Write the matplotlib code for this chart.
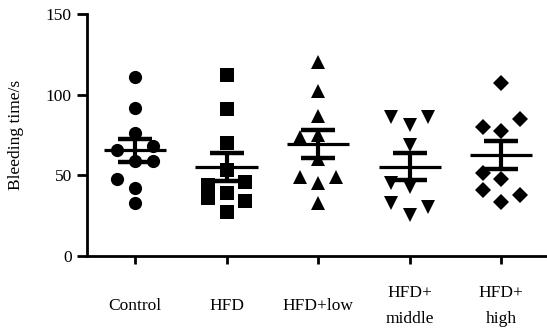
import numpy as np
import matplotlib
matplotlib.use("Agg")
import matplotlib.pyplot as plt

categories = ["Control", "HFD", "HFD+low", "HFD+\nmiddle", "HFD+\nhigh"]
control = [111, 92, 76, 66, 68, 59, 59, 48, 42, 33]
hfd = [112, 91, 70, 53, 39, 27.5, 46, 34, 44, 36]
hfd_low = [120, 102, 87, 74, 75, 60, 49, 49, 45, 33]
hfd_middle = [86, 81, 86, 69, 45.5, 43, 32.6, 30.6, 25.4]
hfd_high = [107.5, 85, 80, 77.7, 51.6, 48, 41, 38, 33.7]
# column of each point within its group: -1 left, 0 centre, 1 right
control_col = [0, 0, 0, -1, 1, 0, 1, -1, 0, 0]
hfd_col = [0, 0, 0, 0, 0, 0, 1, 1, -1, -1]
low_col = [0, 0, 0, -1, 0, 0, -1, 1, 0, 0]
middle_col = [-1, 0, 1, 0, -1, 0, -1, 1, 0]
high_col = [0, 1, -1, 0, -1, 0, -1, 1, 0]
yticks = [0, 50, 100, 150]

groups = [control, hfd, hfd_low, hfd_middle, hfd_high]
cols = [control_col, hfd_col, low_col, middle_col, high_col]
markers = ["o", "s", "^", "v", "D"]
msizes = [9.5, 10.5, 9.5, 9.5, 8.5]

plt.rcParams['font.family'] = ['Liberation Serif', 'DejaVu Serif']

fig = plt.figure(figsize=(5.47, 3.32), dpi=100)
ax = fig.add_axes([87/547, 76/332, 460/547, 242/332])

spread = 0.2
for i, (vals, cc, m, ms) in enumerate(zip(groups, cols, markers, msizes)):
    v = np.array(vals, dtype=float)
    x = i + spread * np.array(cc)
    ax.plot(x, v, linestyle="none", marker=m, markersize=ms, color="black",
            markeredgewidth=0, zorder=2)
    mean = v.mean()
    sem = v.std(ddof=1) / np.sqrt(len(v))
    ax.hlines(mean, i - 0.34, i + 0.34, color="black", lw=2.3, zorder=3)
    ax.errorbar([i], [mean], yerr=[sem], fmt="none", ecolor="black",
                elinewidth=3, capsize=12, capthick=3.2, zorder=3)

ax.set_xlim(-0.525, 4.5)
ax.set_ylim(0, 150)
ax.set_yticks(yticks)
ax.set_xticks(range(len(categories)))
ax.set_xticklabels(categories, fontsize=12.5, linespacing=1.8, va="center")
ax.tick_params(axis="x", pad=30, length=6, width=2)
ax.tick_params(axis="y", labelsize=12.5, length=7, width=2, pad=4)
for s in ["top", "right"]:
    ax.spines[s].set_visible(False)
for s in ["left", "bottom"]:
    ax.spines[s].set_linewidth(2)
ax.set_ylabel("Bleeding time/s", fontsize=12.5, labelpad=16)

fig.savefig("out.png", dpi=100)
